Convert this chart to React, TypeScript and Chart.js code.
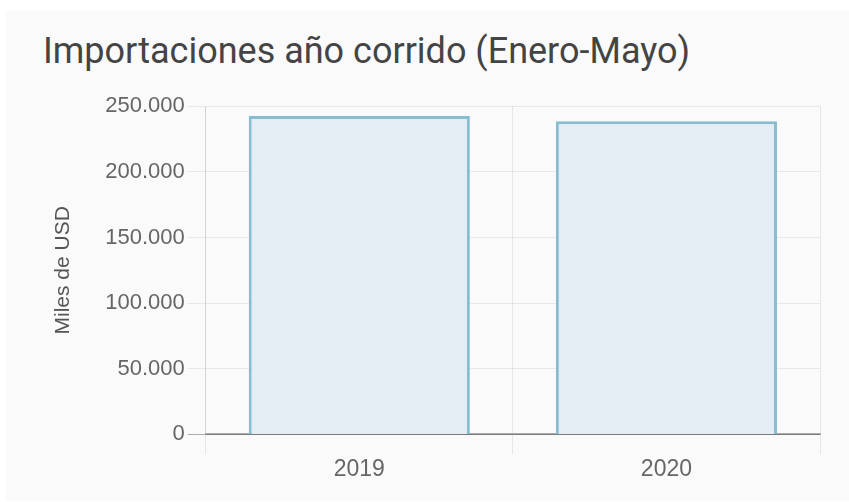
import React, { useEffect, useRef } from "react";
import { Chart, registerables } from "chart.js";

Chart.register(...registerables);

const categories = ["2019", "2020"];
const importaciones = [242500, 238500];
const yTicks = [0, 50000, 100000, 150000, 200000, 250000];
const titleText = "Importaciones año corrido (Enero-Mayo)";
const yAxisTitle = "Miles de USD";

const fmt = (v: number) =>
  String(Math.round(v)).replace(/\B(?=(\d{3})+(?!\d))/g, ".");

export default function App() {
  const ref = useRef<HTMLCanvasElement | null>(null);

  useEffect(() => {
    if (!ref.current) return;
    const chart = new Chart(ref.current, {
      type: "bar",
      data: {
        labels: categories,
        datasets: [
          {
            label: "Importaciones",
            data: importaciones,
            backgroundColor: "#e4ecf4",
            borderColor: "#88bdcf",
            borderWidth: 3,
            barPercentage: 0.9,
            categoryPercentage: 0.8,
          },
        ],
      },
      options: {
        animation: false,
        responsive: false,
        maintainAspectRatio: false,
        layout: { padding: { left: 45, right: 29, top: 9, bottom: 0 } },
        plugins: {
          legend: { display: false },
          tooltip: { enabled: false },
          title: { display: false },
        },
        scales: {
          x: {
            grid: {
              color: "rgba(0,0,0,0.08)",
              tickLength: 20,
              offset: true,
            },
            border: { color: "rgba(0,0,0,0.3)", width: 2 },
            ticks: {
              color: "#666",
              font: { family: "'Liberation Sans', Arial", size: 23 },
              padding: 1,
            },
          },
          y: {
            min: 0,
            max: 250000,
            afterBuildTicks: (axis: any) => {
              axis.ticks = yTicks.map((v) => ({ value: v }));
            },
            grid: {
              color: (ctx: any) =>
                ctx.tick && ctx.tick.value === 0
                  ? "rgba(0,0,0,0.3)"
                  : "rgba(0,0,0,0.07)",
              tickLength: 18,
            },
            border: { color: "rgba(0,0,0,0.08)" },
            ticks: {
              color: "#666",
              font: { family: "'Liberation Sans', Arial", size: 22 },
              padding: 3,
              callback: (v: any) => fmt(Number(v)),
            },
            title: {
              display: true,
              text: yAxisTitle,
              color: "#555",
              font: { family: "'Liberation Sans', Arial", size: 21 },
              padding: { top: 0, bottom: 26 },
            },
          },
        },
      },
    });
    return () => chart.destroy();
  }, []);

  return (
    <div
      style={{
        position: "fixed",
        left: 6,
        top: 11,
        width: 843,
        height: 490,
        background: "#fafafa",
      }}
    >
      <div
        style={{
          position: "absolute",
          left: 37,
          top: 18,
          fontFamily: "Roboto, sans-serif",
          fontSize: 36,
          color: "#444",
          whiteSpace: "nowrap",
          lineHeight: "44px",
        }}
      >
        {titleText}
      </div>
      <canvas
        ref={ref}
        width={843}
        height={394}
        style={{ position: "absolute", left: 0, top: 79, width: 843, height: 394 }}
      />
    </div>
  );
}
